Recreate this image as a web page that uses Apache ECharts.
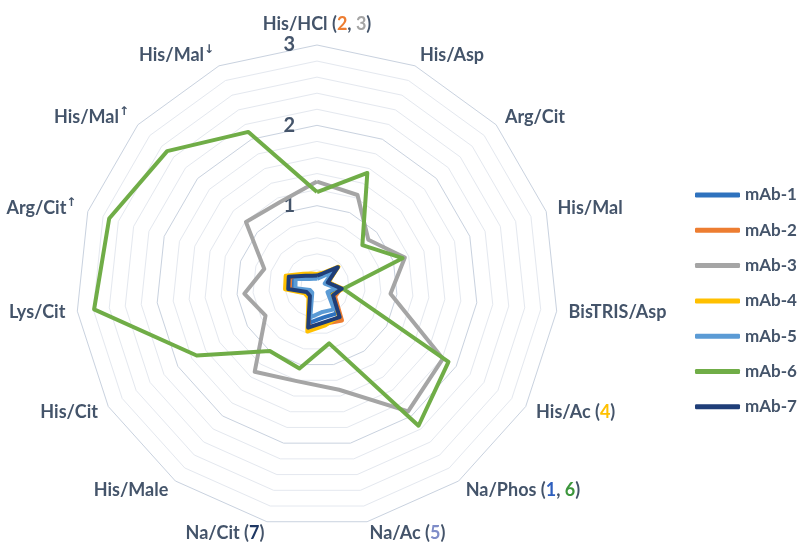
<!DOCTYPE html>
<html><head><meta charset="utf-8">
<script src="https://cdn.jsdelivr.net/npm/echarts@6/dist/echarts.min.js"></script>
<style>html,body{margin:0;padding:0;background:#fff}#c{width:799px;height:543px}</style>
</head><body><div id="c"></div>
<script>
// indicators in clockwise order starting at the top
const categories = ['His/HCl','His/Asp','Arg/Cit','His/Mal','BisTRIS/Asp','His/Ac','Na/Phos','Na/Ac','Na/Cit','His/Male','His/Cit','Lys/Cit','Arg/Cit','His/Mal','His/Mal'];
const superscripts = ['','','','','','','','','','','','','↑','↑','↓'];
const notes = [[['2','o'],['3','g']],[],[],[],[],[['4','y']],[['1','b'],['6','gr']],[['5','lb']],[['7','n']],[],[],[],[],[],[]];
const tickLabels = ['1','2','3'];
const axisMax = 3;

const seriesNames = ['mAb-1','mAb-2','mAb-3','mAb-4','mAb-5','mAb-6','mAb-7'];
const seriesColors = ['#2E72BE','#ED7D31','#A5A5A5','#FFC000','#5B9BD5','#70AD47','#1F3E78'];
const mAb1 = [0.11,0.15,0.30,0.12,0.27,0.19,0.42,0.40,0.47,0.12,0.12,0.31,0.32,0.16,0.12];
const mAb2 = [0.12,0.16,0.33,0.15,0.30,0.26,0.53,0.48,0.52,0.15,0.14,0.34,0.35,0.18,0.13];
const mAb3 = [1.30,1.24,0.86,1.15,0.92,1.81,1.93,1.32,1.21,1.32,0.74,0.91,0.69,1.19,1.14];
const mAb4 = [0.15,0.18,0.36,0.15,0.33,0.22,0.47,0.50,0.58,0.18,0.18,0.40,0.41,0.23,0.17];
const mAb5 = [0.09,0.12,0.26,0.10,0.24,0.15,0.36,0.33,0.40,0.10,0.10,0.27,0.28,0.13,0.10];
const mAb6 = [1.17,1.54,0.76,1.12,0.33,1.89,2.15,0.73,1.05,1.00,1.73,2.79,2.72,2.51,2.10];
const mAb7 = [0.13,0.17,0.35,0.14,0.31,0.23,0.48,0.46,0.53,0.15,0.15,0.36,0.37,0.19,0.14];
const seriesValues = [mAb1,mAb2,mAb3,mAb4,mAb5,mAb6,mAb7];

const TXT = '#44546A';
const FONT = 'Lato, "Open Sans", sans-serif';
const n = categories.length;
// ECharts places radar indicators counter-clockwise: reorder so they run clockwise
const order = [0];
for (let i = n - 1; i >= 1; i--) order.push(i);
const reorder = arr => order.map(i => arr[i]);

const indicator = order.map(i => {
  const o = { name: categories[i] + superscripts[i], max: axisMax, min: 0, _i: i };
  if (i === 0) {
    o.axisLabel = {
      show: true, margin: 22, fontSize: 20, fontWeight: 'bold', color: TXT, fontFamily: FONT,
      formatter: v => {
        const r = Math.round(v);
        return (Math.abs(v - r) < 1e-6 && r > 0) ? tickLabels[r - 1] : '';
      }
    };
  }
  return o;
});

const chart = echarts.init(document.getElementById('c'), null, { renderer: 'canvas' });
chart.setOption({
  backgroundColor: '#fff',
  animation: false,
  legend: {
    orient: 'vertical', left: 695, top: 185, padding: 0, itemWidth: 45, itemHeight: 5, itemGap: 15.3,
    icon: 'roundRect',
    textStyle: { color: TXT, fontSize: 17, fontWeight: 'bold', fontFamily: FONT, lineHeight: 20 },
    data: seriesNames
  },
  radar: {
    center: [317, 286], radius: 241, startAngle: 90, shape: 'polygon', splitNumber: 15,
    axisNameGap: 12,
    axisName: {
      color: TXT, fontSize: 18, fontWeight: 'bold', fontFamily: FONT,
      formatter: (name, ind) => {
        const i = ind._i;
        let s = '{t|' + categories[i] + '}';
        if (superscripts[i]) s += '{sup|' + superscripts[i] + '}';
        if (notes[i].length) {
          s += '{t| (}' + notes[i].map(p => '{' + p[1] + '|' + p[0] + '}').join('{t|, }') + '{t|)}';
        }
        return s;
      },
      rich: {
        t: { color: TXT, fontSize: 18, fontWeight: 'bold', fontFamily: FONT },
        sup: { color: TXT, fontSize: 12, fontWeight: 'bold', fontFamily: '"DejaVu Sans", sans-serif', padding: [0, 0, 9, 0] },
        o: { color: '#ED7D31', fontSize: 18, fontWeight: 'bold', fontFamily: FONT },
        g: { color: '#A5A5A5', fontSize: 18, fontWeight: 'bold', fontFamily: FONT },
        y: { color: '#FFC000', fontSize: 18, fontWeight: 'bold', fontFamily: FONT },
        b: { color: '#2E5FBE', fontSize: 18, fontWeight: 'bold', fontFamily: FONT },
        gr: { color: '#3C963C', fontSize: 18, fontWeight: 'bold', fontFamily: FONT },
        lb: { color: '#7E8CC8', fontSize: 18, fontWeight: 'bold', fontFamily: FONT },
        n: { color: '#1F3864', fontSize: 18, fontWeight: 'bold', fontFamily: FONT }
      }
    },
    axisLine: { show: false },
    axisTick: { show: false },
    axisLabel: { show: false },
    splitArea: { show: false },
    splitLine: { lineStyle: { color: ['#C9D2DF', '#E4E8EF', '#E4E8EF', '#E4E8EF', '#E4E8EF'], width: 1 } },
    indicator: indicator
  },
  series: seriesNames.map((nm, k) => ({
    type: 'radar', name: nm, symbol: 'none',
    lineStyle: { color: seriesColors[k], width: 4 },
    itemStyle: { color: seriesColors[k] },
    data: [{ value: reorder(seriesValues[k]), name: nm }]
  }))
});
</script></body></html>
